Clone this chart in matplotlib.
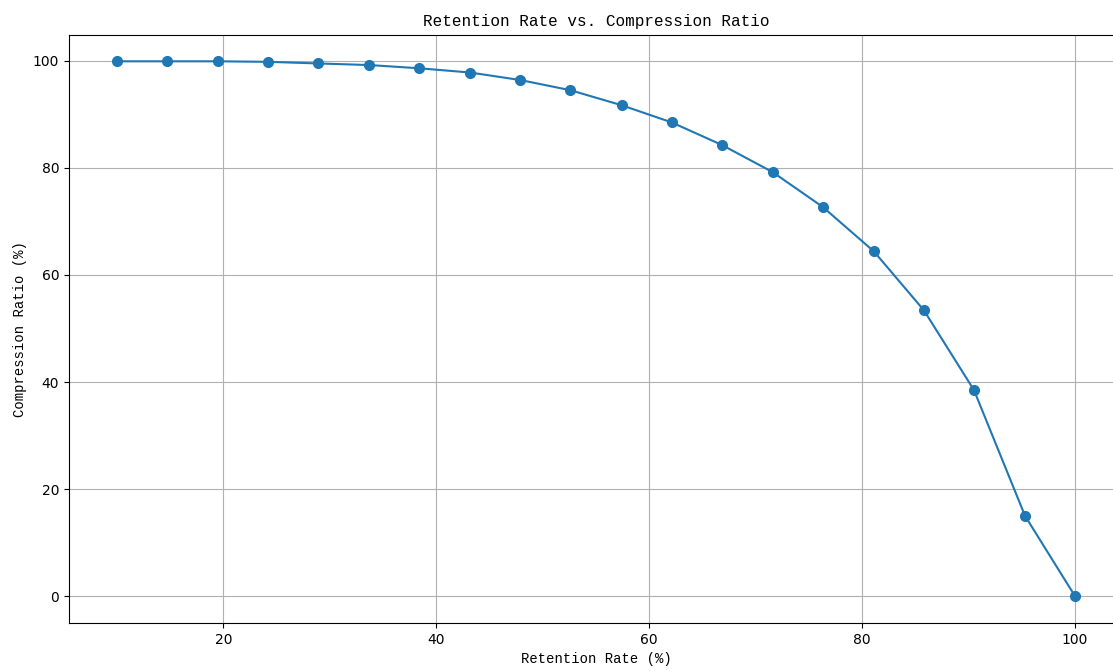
import matplotlib
matplotlib.use("Agg")
import matplotlib.pyplot as plt

retention_rate = [10.0, 14.7, 19.5, 24.2, 28.9, 33.7, 38.4, 43.2, 47.9, 52.6,
                  57.4, 62.1, 66.8, 71.6, 76.3, 81.1, 85.8, 90.5, 95.3, 100.0]
compression_ratio = [99.9, 99.9, 99.9, 99.8, 99.5, 99.2, 98.6, 97.8, 96.4, 94.5,
                     91.7, 88.5, 84.3, 79.2, 72.7, 64.4, 53.4, 38.5, 15.0, 0.0]

label_font = ["Liberation Mono", "DejaVu Sans Mono"]


def main():
    fig = plt.figure(figsize=(11.13, 6.71), dpi=100)
    # the original was cropped on the right, so the axes run past the edge
    ax = fig.add_axes([0.062, 0.0715, 0.947, 0.877])
    ax.plot(retention_rate, compression_ratio, marker="o", markersize=7, color="#1f77b4")
    ax.set_xlabel("Retention Rate (%)", family=label_font, fontsize=10)
    ax.set_ylabel("Compression Ratio (%)", family=label_font, fontsize=10)
    ax.set_title("Retention Rate vs. Compression Ratio", family=label_font, fontsize=11.5)
    ax.grid(True)
    fig.savefig("out.png", dpi=100)


if __name__ == "__main__":
    main()
